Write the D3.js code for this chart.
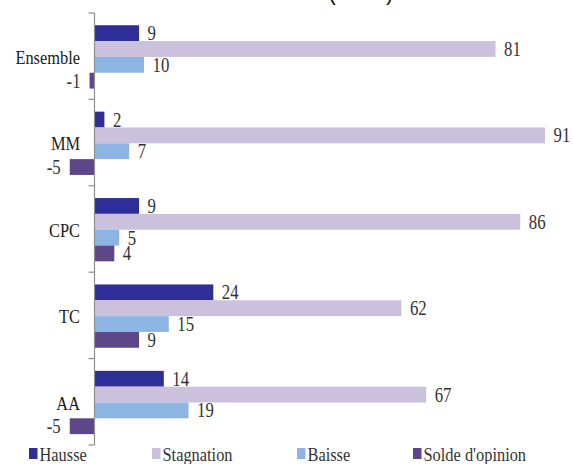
<!DOCTYPE html>
<html>
<head>
<meta charset="utf-8">
<script src="https://cdn.jsdelivr.net/npm/d3@7/dist/d3.min.js"></script>
<style>
  html, body { margin: 0; padding: 0; background: #fff; }
  svg { display: block; }
  .serif { font-family: "Liberation Serif", "DejaVu Serif", serif; }
</style>
</head>
<body>
<svg id="chart" width="573" height="464"></svg>
<script>
const categories = ["Ensemble", "MM", "CPC", "TC", "AA"];
const seriesNames = ["Hausse", "Stagnation", "Baisse", "Solde d'opinion"];
const hausse = [9, 2, 9, 24, 14];
const stagnation = [81, 91, 86, 62, 67];
const baisse = [10, 7, 5, 15, 19];
const solde = [-1, -5, 4, 9, -5];
const colors = ["#2E2E98", "#CBC1DC", "#8DB5E3", "#5E4788"];
const titleText = "(en %)";

const values = [hausse, stagnation, baisse, solde];
const svg = d3.select("#chart");
const sx = 0.84;

const y0 = d3.scaleBand().domain(categories).range([13, 445]).padding(0);
const y1 = d3.scaleBand().domain(seriesNames).range([0, y0.bandwidth()])
  .paddingInner(0).paddingOuter(0.73).align(0.53);
const x = d3.scaleLinear().domain([0, 91]).range([94.5, 545]);

// title (cut off at top)
svg.append("text").attr("x", 361).attr("y", 0)
  .attr("text-anchor", "middle")
  .attr("font-family", "Liberation Sans, Arial, sans-serif")
  .attr("font-size", 22).attr("fill", "#111").text(titleText);

// bars
const rows = [];
categories.forEach((c, i) => {
  seriesNames.forEach((s, j) => rows.push({ cat: c, ser: s, j, v: values[j][i] }));
});

svg.append("g").selectAll("rect").data(rows).join("rect")
  .attr("x", d => x(Math.min(0, d.v)))
  .attr("y", d => y0(d.cat) + y1(d.ser))
  .attr("width", d => Math.abs(x(d.v) - x(0)))
  .attr("height", y1.bandwidth())
  .attr("fill", d => colors[d.j]);

// axis
const axisG = svg.append("g").attr("transform", `translate(${x(0)},0)`);
axisG.append("line").attr("x1", 0).attr("x2", 0).attr("y1", 13).attr("y2", 445)
  .attr("stroke", "#8f8f8f").attr("stroke-width", 1.2);
const tickYs = categories.map(c => y0(c)).concat([y0.range()[1]]);
axisG.selectAll("line.tick").data(tickYs).join("line").attr("class", "tick")
  .attr("x1", -6).attr("x2", 0).attr("y1", d => d).attr("y2", d => d)
  .attr("stroke", "#8f8f8f").attr("stroke-width", 1.2);

// value labels
const lab = svg.append("g").selectAll("g").data(rows).join("g")
  .attr("transform", d => {
    const xx = d.v >= 0 ? x(d.v) + 8.5 : x(d.v) - 9;
    const yy = y0(d.cat) + y1(d.ser) + y1.bandwidth() / 2;
    return `translate(${xx},${yy}) scale(${sx},1)`;
  });
lab.append("text").attr("class", "serif")
  .attr("text-anchor", d => d.v >= 0 ? "start" : "end")
  .attr("dy", "0.35em")
  .attr("font-size", 20)
  .attr("fill", "#333")
  .text(d => d.v);

// category labels
svg.append("g").selectAll("g").data(categories).join("g")
  .attr("transform", c => `translate(80,${y0(c) + y0.bandwidth() / 2 + 1}) scale(${sx},1)`)
  .append("text").attr("class", "serif").attr("text-anchor", "end").attr("dy", "0.35em")
  .attr("font-size", 19.5).attr("fill", "#1a1a1a")
  .text(c => c);

// legend
const legX = [29, 152, 297, 413];
const leg = svg.append("g").selectAll("g").data(seriesNames).join("g")
  .attr("transform", (s, i) => `translate(${legX[i]},0)`);
leg.append("rect").attr("x", 0).attr("y", 448).attr("width", 8.5).attr("height", 11)
  .attr("fill", (s, i) => colors[i]);
leg.append("g").attr("transform", `translate(10.5,461) scale(${sx},1)`)
  .append("text").attr("class", "serif").attr("font-size", 19.5).attr("fill", "#333")
  .text(s => s);
</script>
</body>
</html>
